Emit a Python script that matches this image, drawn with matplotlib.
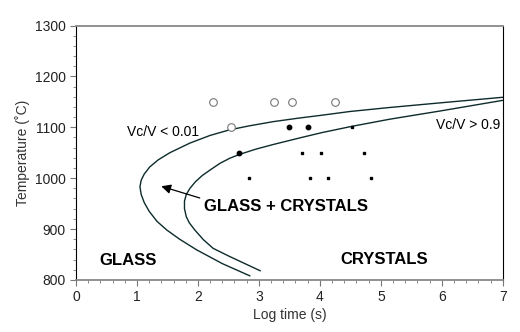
import matplotlib.pyplot as plt
import numpy as np

plt.rcParams['font.family'] = ['Liberation Sans', 'DejaVu Sans']

# open circles (glass)
glass_x = [2.25, 2.55, 3.25, 3.55, 4.25]
glass_t = [1150, 1100, 1150, 1150, 1150]
# filled dots (glass + crystals)
mixed_x = [2.67, 3.5, 3.8]
mixed_t = [1050, 1100, 1100]
# small squares (crystals)
cryst_x = [4.53, 3.71, 4.02, 4.72, 2.83, 3.84, 4.14, 4.84]
cryst_t = [1100, 1050, 1050, 1050, 1000, 1000, 1000, 1000]

# curve Vc/V < 0.01 (bottom end -> right end)
outer_x = [2.85, 2.40, 1.98, 1.70, 1.49, 1.33, 1.20, 1.12, 1.07, 1.05, 1.07, 1.12,
           1.21, 1.35, 1.54, 1.87, 2.20, 2.52, 2.85, 3.23, 3.65, 4.05, 4.49, 5.15,
           5.97, 7.0]
outer_t = [808, 832, 859, 880, 898, 915, 935, 952, 968, 983, 996, 1008,
           1022, 1036, 1050, 1069, 1084, 1095, 1103, 1111, 1118, 1124, 1131, 1139,
           1148, 1159]
# curve Vc/V > 0.9
inner_x = [3.02, 2.52, 2.25, 2.09, 1.95, 1.86, 1.81, 1.78, 1.78, 1.81, 1.87, 1.96,
           2.07, 2.20, 2.36, 2.52, 2.69, 2.95, 3.23, 3.70, 4.05, 4.53, 5.15, 5.97, 7.0]
inner_t = [818, 846, 862, 879, 898, 912, 924, 940, 955, 968, 980, 993,
           1005, 1016, 1029, 1039, 1047, 1057, 1066, 1080, 1090, 1102, 1116, 1132, 1153]

fig = plt.figure(figsize=(5.2, 3.32), dpi=100)
ax = fig.add_axes([0.146, 0.157, 0.821, 0.766])

ax.plot(outer_x, outer_t, color='#0d2b2b', lw=1.0, solid_joinstyle='round')
ax.plot(inner_x, inner_t, color='#0d2b2b', lw=1.0, solid_joinstyle='round')

ax.plot(glass_x, glass_t, 'o', ms=5.5, mfc='white', mec='#777777', mew=0.8, ls='none')
ax.plot(mixed_x, mixed_t, 'o', ms=3.2, color='black', ls='none')
ax.plot(cryst_x, cryst_t, 's', ms=1.9, color='black', ls='none')

ax.text(0.83, 1091, 'Vc/V < 0.01', fontsize=10, va='center', ha='left')
ax.text(6.95, 1104, 'Vc/V > 0.9', fontsize=10, va='center', ha='right')
ax.text(3.45, 944, 'GLASS + CRYSTALS', fontsize=12, weight='bold', ha='center', va='center')
ax.text(0.86, 839, 'GLASS', fontsize=12, weight='bold', ha='center', va='center')
ax.text(5.05, 841, 'CRYSTALS', fontsize=12, weight='bold', ha='center', va='center')
ax.annotate('', xy=(1.40, 984), xytext=(2.03, 961),
            arrowprops=dict(arrowstyle='-|>', color='black', lw=0.9,
                            mutation_scale=14, shrinkA=0, shrinkB=0))

ax.set_xlim(0, 7)
ax.set_ylim(800, 1300)
ax.set_xticks(range(0, 8))
ax.set_xticks(np.arange(0, 7.01, 0.2), minor=True)
ax.set_yticks(range(800, 1301, 100))
ax.set_yticks(range(800, 1301, 20), minor=True)

ax.spines['top'].set_color('#888888')
ax.spines['bottom'].set_color('#888888')
ax.spines['top'].set_linewidth(1.3)
ax.spines['bottom'].set_linewidth(1.3)
ax.spines['left'].set_color('black')
ax.spines['right'].set_color('black')
ax.tick_params(which='both', direction='out', color='#777777', labelsize=10,
               labelcolor='#222222')
ax.tick_params(which='major', length=4, width=0.8)
ax.tick_params(which='minor', length=2.5, width=0.6)

ax.set_xlabel('Log time (s)', fontsize=10, color='#333333', labelpad=3)
ax.set_ylabel('Temperature (˚C)', fontsize=10, color='#333333', labelpad=3)

fig.savefig('out.png', dpi=100)
